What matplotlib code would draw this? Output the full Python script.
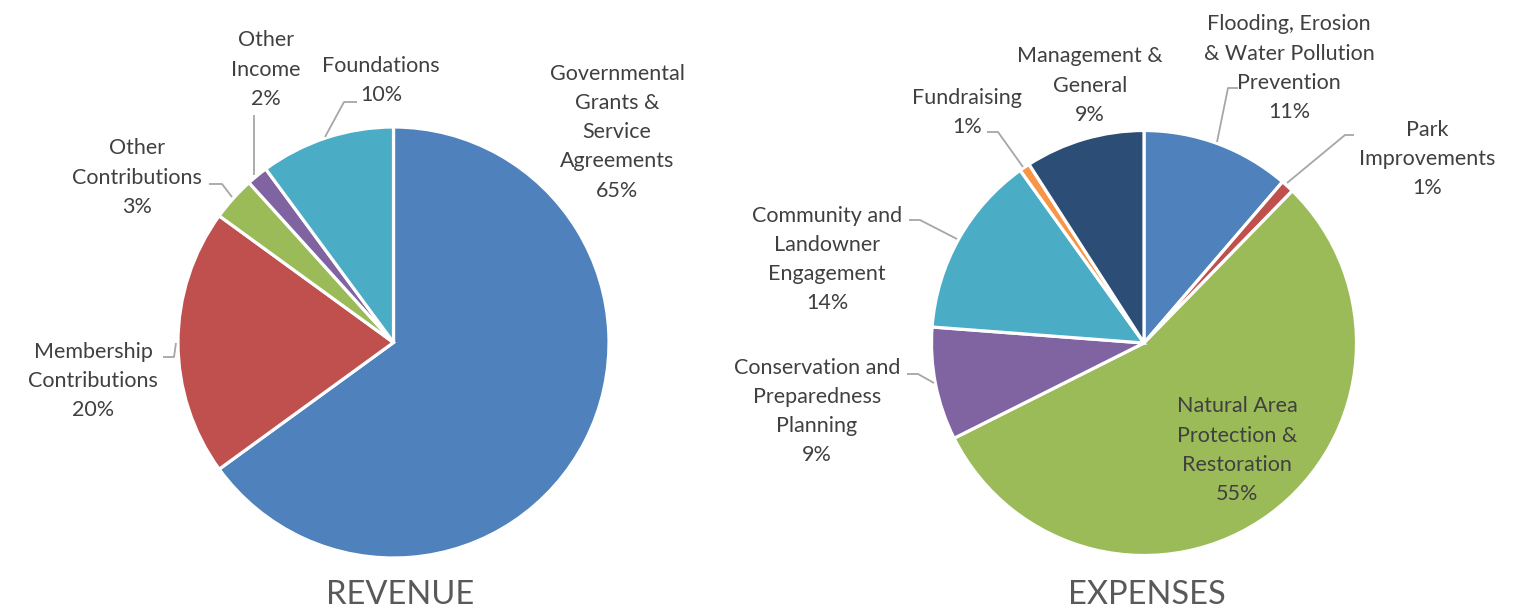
import matplotlib
matplotlib.use("Agg")
import matplotlib.pyplot as plt

# ---------------- data ----------------
rev_categories = ["Governmental\nGrants &\nService\nAgreements", "Membership\nContributions",
                  "Other\nContributions", "Other\nIncome", "Foundations"]
rev_values = [65.0, 20.0, 3.3, 1.6, 10.1]
rev_colors = ["#4F81BD", "#C0504D", "#9BBB59", "#8064A2", "#4BACC6"]

exp_categories = ["Flooding, Erosion\n& Water Pollution\nPrevention", "Park\nImprovements",
                  "Natural Area\nProtection &\nRestoration", "Conservation and\nPreparedness\nPlanning",
                  "Community and\nLandowner\nEngagement", "Fundraising", "Management &\nGeneral"]
exp_values = [11.3, 1.0, 55.3, 8.6, 13.9, 0.8, 9.1]
exp_colors = ["#4F81BD", "#C0504D", "#9BBB59", "#8064A2", "#4BACC6", "#F79646", "#2C4D75"]

titles = ["REVENUE", "EXPENSES"]

# ---------------- layout (image pixel coords, y down) ----------------
W, H = 1516, 610
FONT = "Lato"
TXT = "#404040"
LEAD = "#A6A6A6"
LSP = 29.3

rev_label_pos = [(617, 72), (93, 350), (137, 147), (266, 39), (381, 64)]
rev_leaders = [None,
               [(163, 357), (174, 357), (176, 343)],
               [(209, 184), (222, 184), (232, 197)],
               [(254, 115), (254, 175)],
               [(357, 102), (344, 102), (325, 137)]]

exp_label_pos = [(1289, 23), (1427, 128), (1237, 405), (817, 366), (827, 214), (967, 96), (1090, 55)]
exp_leaders = [[(1238, 88), (1228, 88), (1217, 142)],
               [(1354, 135), (1345, 135), (1287, 183)],
               None,
               [(907, 374), (918, 374), (934, 383)],
               [(909, 220), (920, 220), (957, 239)],
               [(987, 132), (998, 132), (1023, 167)],
               None]

pies = [
    dict(cats=rev_categories, vals=rev_values, cols=rev_colors, center=(393.5, 342.5), r=215.5,
         lpos=rev_label_pos, leaders=rev_leaders, title=titles[0], tpos=(400, 595)),
    dict(cats=exp_categories, vals=exp_values, cols=exp_colors, center=(1144, 343), r=212.5,
         lpos=exp_label_pos, leaders=exp_leaders, title=titles[1], tpos=(1147, 595)),
]

fig = plt.figure(figsize=(W / 100, H / 100), dpi=100)
ax = fig.add_axes([0, 0, 1, 1])


def Y(y):
    return H - y


for p in pies:
    cx, cy = p["center"]
    ax.pie(p["vals"], colors=p["cols"], startangle=90, counterclock=False,
           center=(cx, Y(cy)), radius=p["r"],
           wedgeprops=dict(edgecolor="white", linewidth=2.3), frame=True)
    total = sum(p["vals"])
    for cat, v, (lx, ly), lead in zip(p["cats"], p["vals"], p["lpos"], p["leaders"]):
        lines = cat.split("\n") + [f"{round(v / total * 100)}%"]
        for i, line in enumerate(lines):
            ax.text(lx, Y(ly + i * LSP + 7.5), line, ha="center", va="baseline",
                    fontsize=15.5, color=TXT, family=FONT)
        if lead is not None:
            xs = [pt[0] for pt in lead]
            ys = [Y(pt[1]) for pt in lead]
            ax.plot(xs, ys, color=LEAD, lw=1.3, solid_capstyle="butt")
    tx, ty = p["tpos"]
    ax.text(tx, Y(ty), p["title"], ha="center", va="center", fontsize=23.5,
            color="#595959", family=FONT)

ax.set_xlim(0, W)
ax.set_ylim(0, H)
ax.set_aspect("equal")
ax.axis("off")
fig.savefig("out.png", dpi=100, facecolor="white")
